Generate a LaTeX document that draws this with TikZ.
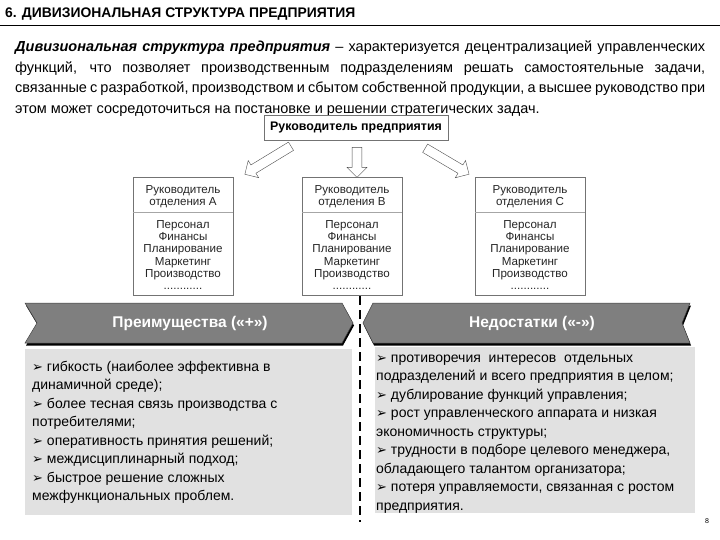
\documentclass[tikz,border=0pt]{standalone}
\usepackage{fontspec}
\setmainfont{Liberation Sans}
\newfontfamily\symfont{DejaVu Sans}
\usetikzlibrary{shapes.arrows}
\definecolor{bannergray}{HTML}{7F7F7F}
\definecolor{panelgray}{HTML}{E1E1E1}
\newcommand{\bul}{{\symfont\fontsize{13}{13}\selectfont ➢}~}

\begin{document}
\begin{tikzpicture}
[x=1pt, y=-1pt,
every node/.style={inner sep=0pt},
topbox/.style={draw=black!55, fill=white, minimum width=184pt, minimum height=25pt,
  font=\fontsize{12.4}{14}\selectfont\bfseries},
divbox/.style={draw=black!55, fill=white, minimum height=118pt},
divtext/.style={align=center, text=black!85, font=\fontsize{11.6}{12.2}\selectfont},
blockarrow/.style={single arrow, draw=black!70, fill=white, inner sep=4.5pt,
  minimum width=20pt, single arrow head extend=5pt, single arrow head indent=0pt},
banner/.style={fill=bannergray, draw=black!75, line width=0.5pt},
bannershadow/.style={fill=black, shift={(1,2.5)}},
bannertext/.style={text=white, font=\fontsize{15.5}{17}\selectfont\bfseries},
panel/.style={fill=panelgray},
listtext/.style={anchor=north west, align=left, font=\fontsize{14}{18.5}\selectfont},
sepline/.style={line width=1.6pt, dash pattern=on 9pt off 5pt}]

\useasboundingbox (0,0) rectangle (720,540);

% heading
\node[anchor=base west, font=\fontsize{13.9}{15}\selectfont\bfseries] (title) at (5,18)
  {6. ДИВИЗИОНАЛЬНАЯ СТРУКТУРА ПРЕДПРИЯТИЯ};
\draw[line width=0.8pt] (0,25) -- (720,25);

% definition
\node[anchor=north west, text width=690pt, align=justify,
  font=\fontsize{14.5}{20.5}\selectfont] (intro) at (15,37)
  {\strut\textbf{\textit{Дивизиональная структура предприятия}} – характеризуется
  децентрализацией управленческих\linebreak функций, что позволяет производственным
  подразделениям решать самостоятельные задачи,\linebreak связанные с разработкой,
  производством и сбытом собственной продукции, а высшее руководство при\linebreak
  этом может сосредоточиться на постановке и решении стратегических задач.};

% scheme
\node[topbox] (boss) at (356,127.5) {Руководитель предприятия};

\node[blockarrow, minimum height=54pt, rotate=211.3] (arrA) at (270,159) {};
\node[blockarrow, minimum height=30pt, rotate=-90] (arrB) at (357,160) {};
\node[blockarrow, minimum height=51pt, rotate=-30.6] (arrC) at (445,160) {};

\foreach \d/\cx/\w in {A/183/100, B/352/100, C/530/110} {
  \node[divbox, minimum width=\w pt] (div\d) at (\cx,236) {};
  \draw[black!35, line width=1.2pt] ([yshift=-36pt]div\d.north west)
    -- ([yshift=-36pt]div\d.north east);
  \node[divtext] (div\d-head) at (\cx,197) {Руководитель\\отделения \d};
  \node[divtext] (div\d-list) at (\cx,255)
    {Персонал\\Финансы\\Планирование\\Маркетинг\\Производство\\............};
}

% advantages / disadvantages
\fill[bannershadow] (25,303) -- (342,303) -- (353,323) -- (342,343) -- (25,343) -- (37,323) -- cycle;
\filldraw[banner] (25,303) -- (342,303) -- (353,323) -- (342,343) -- (25,343) -- (37,323) -- cycle;
\node[bannertext] (plus) at (190,323) {Преимущества («+»)};

\fill[bannershadow] (373,303) -- (690,303) -- (682,323) -- (690,343) -- (373,343) -- (363,323) -- cycle;
\filldraw[banner] (373,303) -- (690,303) -- (682,323) -- (690,343) -- (373,343) -- (363,323) -- cycle;
\node[bannertext] (minus) at (532,323) {Недостатки («-»)};

\fill[panel] (25,349) rectangle (352,515);
\fill[panel] (375,347) rectangle (695,513);

\node[listtext] (pluslist) at (32,358)
  {\strut\bul гибкость (наиболее эффективна в\\
  динамичной среде);\\
  \bul более тесная связь производства с\\
  потребителями;\\
  \bul оперативность принятия решений;\\
  \bul междисциплинарный подход;\\
  \bul быстрое решение сложных\\
  межфункциональных проблем.};

\node[listtext] (minuslist) at (376,349)
  {\strut\bul противоречия\ \ интересов\ \ отдельных\\
  подразделений и всего предприятия в целом;\\
  \bul дублирование функций управления;\\
  \bul рост управленческого аппарата и низкая\\
  экономичность структуры;\\
  \bul трудности в подборе целевого менеджера,\\
  обладающего талантом организатора;\\
  \bul потеря управляемости, связанная с ростом\\
  предприятия.};

\coordinate (sepTop) at (360,296);
\coordinate (sepBot) at (360,522);
\draw[sepline] (sepTop) -- (sepBot);

\node[font=\fontsize{7}{8}\selectfont] (pageno) at (707,521) {8};
\end{tikzpicture}
\end{document}
